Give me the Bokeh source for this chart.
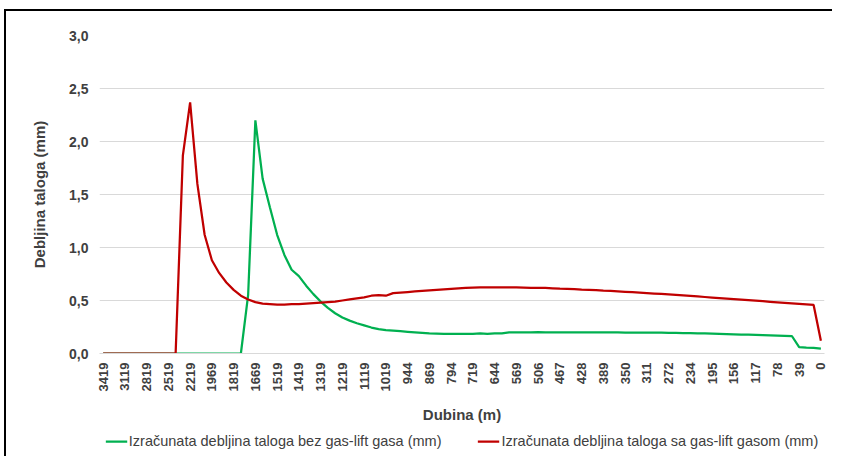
import math
from bokeh.plotting import figure
from bokeh.layouts import column
from bokeh.models import FixedTicker, CustomJSTickFormatter, Legend, LegendItem, ColumnDataSource
from bokeh.embed import file_html
from bokeh.resources import INLINE

depth_labels = ["3419", "3119", "2819", "2519", "2219", "1969", "1819", "1669", "1519", "1419",
                "1319", "1219", "1119", "1019", "944", "869", "794", "719", "644", "569",
                "506", "467", "428", "389", "350", "311", "272", "234", "195", "156",
                "117", "78", "39", "0"]

# thickness with gas-lift (red), 3 points per labelled depth step
sa_gas_lift = [0, 0, 0, 0, 0, 0, 0, 0, 0, 0,
               0, 1.87, 2.37, 1.6, 1.12, 0.88, 0.76, 0.67, 0.6, 0.545,
               0.51, 0.485, 0.47, 0.465, 0.46, 0.46, 0.465, 0.465, 0.47, 0.475,
               0.48, 0.485, 0.49, 0.5, 0.51, 0.52, 0.53, 0.545, 0.55, 0.545,
               0.57, 0.575, 0.58, 0.585, 0.59, 0.595, 0.6, 0.605, 0.61, 0.615,
               0.62, 0.622, 0.624, 0.625, 0.625, 0.625, 0.625, 0.624, 0.622, 0.62,
               0.62, 0.618, 0.615, 0.612, 0.61, 0.607, 0.603, 0.6, 0.597, 0.593,
               0.59, 0.586, 0.582, 0.578, 0.574, 0.57, 0.566, 0.562, 0.558, 0.553,
               0.548, 0.543, 0.538, 0.533, 0.528, 0.523, 0.518, 0.513, 0.508, 0.503,
               0.498, 0.493, 0.488, 0.483, 0.478, 0.473, 0.468, 0.463, 0.458, 0.12]

# thickness without gas-lift (green)
bez_gas_lift = [0, 0, 0, 0, 0, 0, 0, 0, 0, 0,
                0, 0, 0, 0, 0, 0, 0, 0, 0, 0,
                0.55, 2.2, 1.65, 1.38, 1.12, 0.93, 0.79, 0.73, 0.64, 0.56,
                0.49, 0.43, 0.38, 0.34, 0.31, 0.285, 0.265, 0.245, 0.23, 0.22,
                0.215, 0.21, 0.205, 0.2, 0.195, 0.19, 0.188, 0.186, 0.185, 0.185,
                0.185, 0.185, 0.19, 0.185, 0.19, 0.19, 0.2, 0.2, 0.2, 0.2,
                0.202, 0.2, 0.2, 0.2, 0.2, 0.2, 0.2, 0.2, 0.2, 0.2,
                0.2, 0.199, 0.198, 0.198, 0.197, 0.197, 0.196, 0.196, 0.195, 0.194,
                0.193, 0.192, 0.19, 0.189, 0.187, 0.185, 0.183, 0.181, 0.179, 0.177,
                0.175, 0.173, 0.171, 0.169, 0.167, 0.165, 0.06, 0.055, 0.052, 0.045]

y_ticks = [0, 0.5, 1.0, 1.5, 2.0, 2.5, 3.0]
series_names = ["Izračunata debljina taloga bez gas-lift gasa (mm)",
                "Izračunata debljina taloga sa gas-lift gasom (mm)"]

STEP = 3
xs = list(range(len(sa_gas_lift)))
src = ColumnDataSource(dict(x=xs, red=sa_gas_lift, green=bez_gas_lift))

FONT = "Liberation Sans"
TXT = "#404040"
GREEN = "#00b050"
RED = "#c00000"

p = figure(frame_width=725, frame_height=318, output_backend="svg", toolbar_location=None,
           x_range=(-0.5, len(xs) - 0.5), y_range=(0, 3.0),
           min_border_left=93, min_border_right=8, min_border_top=24, min_border_bottom=73)
p.outline_line_color = None
p.background_fill_color = "white"
p.border_fill_color = "white"

p.line("x", "green", source=src, line_color=GREEN, line_width=2.25)
p.line("x", "red", source=src, line_color=RED, line_width=2.25)

# x axis
p.xaxis.ticker = FixedTicker(ticks=[i * STEP for i in range(len(depth_labels))])
p.xaxis.major_label_overrides = {i * STEP: lab for i, lab in enumerate(depth_labels)}
p.xaxis.major_label_orientation = math.pi / 2
p.xaxis.major_label_text_font = FONT
p.xaxis.major_label_text_font_style = "bold"
p.xaxis.major_label_text_font_size = "13px"
p.xaxis.major_label_text_color = TXT
p.xaxis.major_tick_line_color = None
p.xaxis.minor_tick_line_color = None
p.xaxis.major_tick_in = 0
p.xaxis.major_tick_out = 0
p.xaxis.axis_line_color = "#d9d9d9"
p.xaxis.major_label_standoff = 9
p.xaxis.axis_label = "Dubina (m)"
p.xaxis.axis_label_text_font = FONT
p.xaxis.axis_label_text_font_style = "bold"
p.xaxis.axis_label_text_font_size = "15px"
p.xaxis.axis_label_text_color = TXT
p.xaxis.axis_label_standoff = 12

# y axis
p.yaxis.ticker = FixedTicker(ticks=y_ticks)
p.yaxis.formatter = CustomJSTickFormatter(code="return tick.toFixed(1).replace('.', ',');")
p.yaxis.major_label_text_font = FONT
p.yaxis.major_label_text_font_style = "bold"
p.yaxis.major_label_text_font_size = "14px"
p.yaxis.major_label_text_color = TXT
p.yaxis.major_tick_line_color = None
p.yaxis.minor_tick_line_color = None
p.yaxis.major_tick_in = 0
p.yaxis.major_tick_out = 0
p.yaxis.axis_line_color = None
p.yaxis.major_label_standoff = 11
p.yaxis.axis_label = "Debljina taloga (mm)"
p.yaxis.axis_label_text_font = FONT
p.yaxis.axis_label_text_font_style = "bold"
p.yaxis.axis_label_text_font_size = "15px"
p.yaxis.axis_label_text_color = TXT
p.yaxis.axis_label_standoff = 18

p.xgrid.grid_line_color = None
p.ygrid.ticker = FixedTicker(ticks=y_ticks)
p.ygrid.grid_line_color = "#d9d9d9"
p.ygrid.grid_line_width = 1

# legend strip below the chart (same series, drawn outside its visible range)
lg = figure(width=826, height=30, output_backend="svg", toolbar_location=None,
            x_range=(-1000, -999), y_range=(0, 1),
            x_axis_location=None, y_axis_location=None,
            min_border_left=0, min_border_right=0, min_border_top=0, min_border_bottom=0)
lg.outline_line_color = None
lg.xgrid.grid_line_color = None
lg.ygrid.grid_line_color = None
lg_g = lg.line("x", "green", source=src, line_color=GREEN, line_width=2.25)
lg_r = lg.line("x", "red", source=src, line_color=RED, line_width=2.25)

legend = Legend(items=[
    LegendItem(label=series_names[0], renderers=[lg_g]),
    LegendItem(label=series_names[1], renderers=[lg_r]),
], orientation="horizontal", location="center")
legend.label_text_font = FONT
legend.label_text_font_size = "14.5px"
legend.label_text_color = TXT
legend.glyph_width = 22
legend.glyph_height = 16
legend.label_height = 16
legend.label_standoff = 2
legend.spacing = 36
legend.border_line_color = None
legend.background_fill_alpha = 0
legend.margin = 0
legend.padding = 0
lg.add_layout(legend, "center")

layout = column(p, lg, spacing=0)
layout.styles = {"margin-top": "9px", "margin-left": "4px",
                 "border-top": "2px solid #000000", "border-left": "2px solid #000000"}

open("out.html", "w").write(file_html(layout, INLINE))
